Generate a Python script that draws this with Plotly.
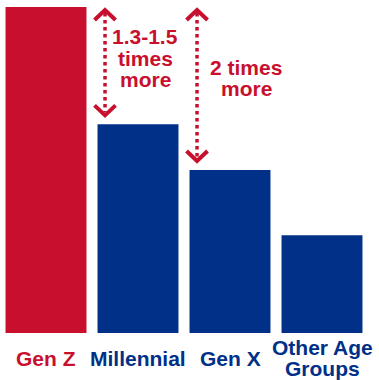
import plotly.graph_objects as go

# ---- data -------------------------------------------------------------
categories = ["Gen Z", "Millennial", "Gen X", "Other Age Groups"]
label_lines = [["Gen Z"], ["Millennial"], ["Gen X"], ["Other Age", "Groups"]]
values = [100, 64, 50, 30]
# (taller bar index, shorter bar index, caption lines)
comparisons = [
    (0, 1, ["1.3-1.5", "times", "more"]),
    (0, 2, ["2 times", "more"]),
]

# ---- style ------------------------------------------------------------
RED = "#C8102E"
BLUE = "#003087"
bar_colors = [RED, BLUE, BLUE, BLUE]
FONT = "Liberation Sans, Arial, sans-serif"
FONT_SIZE = 21
LINE_STEP = 21.5           # px between stacked text lines

W, H = 379, 380
M = dict(l=0, r=11, t=7, b=47)
BARGAP = 0.12
plot_w = W - M["l"] - M["r"]
plot_h = H - M["t"] - M["b"]
YMAX = 100
x_per_px = len(categories) / plot_w
y_per_px = YMAX / plot_h
half_bar = (1 - BARGAP) / 2

# caption placement relative to each arrow: (px right of arrow, px up from arrow middle)
caption_offsets = [(40, 4.5), (49, 7.5)]

fig = go.Figure()
fig.add_trace(go.Bar(
    x=list(range(len(categories))), y=values,
    marker=dict(color=bar_colors, line=dict(width=0)),
    hoverinfo="skip", showlegend=False,
))

annotations = []

# double-headed dotted arrows with chevron heads
for k, (a, b, caption) in enumerate(comparisons):
    x0 = b - half_bar + 7.5 * x_per_px
    top = values[a] - 3 * y_per_px
    bottom = values[b] + 9 * y_per_px
    dx, dy = 10.5 * x_per_px, 10 * y_per_px

    fig.add_trace(go.Scatter(
        x=[x0, x0], y=[top - 3 * y_per_px, bottom + 3 * y_per_px], mode="lines",
        line=dict(color=RED, width=3.5, dash="3.5px,3.5px"),
        hoverinfo="skip", showlegend=False,
    ))
    for tip, sign in ((top, -1), (bottom, 1)):
        fig.add_trace(go.Scatter(
            x=[x0 - dx, x0, x0 + dx], y=[tip + sign * dy, tip, tip + sign * dy],
            mode="lines", line=dict(color=RED, width=4),
            hoverinfo="skip", showlegend=False,
        ))

    off_x, off_y = caption_offsets[k]
    n = len(caption)
    for i, line in enumerate(caption):
        annotations.append(dict(
            x=x0 + off_x * x_per_px, y=(top + bottom) / 2, xref="x", yref="y",
            text=f"<b>{line}</b>", showarrow=False,
            xanchor="center", yanchor="middle",
            yshift=((n - 1) / 2 - i) * LINE_STEP + off_y,
            font=dict(family=FONT, size=FONT_SIZE, color=RED),
        ))

# category labels, centred vertically under each bar
for i, lines in enumerate(label_lines):
    n = len(lines)
    for j, line in enumerate(lines):
        annotations.append(dict(
            x=i, y=0, xref="x", yref="y",
            text=f"<b>{line}</b>", showarrow=False,
            xanchor="center", yanchor="middle",
            yshift=-25 + ((n - 1) / 2 - j) * LINE_STEP,
            font=dict(family=FONT, size=FONT_SIZE, color=bar_colors[i]),
        ))

fig.update_layout(
    width=W, height=H, margin=M,
    paper_bgcolor="white", plot_bgcolor="white",
    bargap=BARGAP,
    xaxis=dict(visible=False, range=[-0.5, len(categories) - 0.5], fixedrange=True),
    yaxis=dict(visible=False, range=[0, YMAX], fixedrange=True),
    annotations=annotations,
    showlegend=False,
)

fig.write_html("out.html", config={"displayModeBar": False})
